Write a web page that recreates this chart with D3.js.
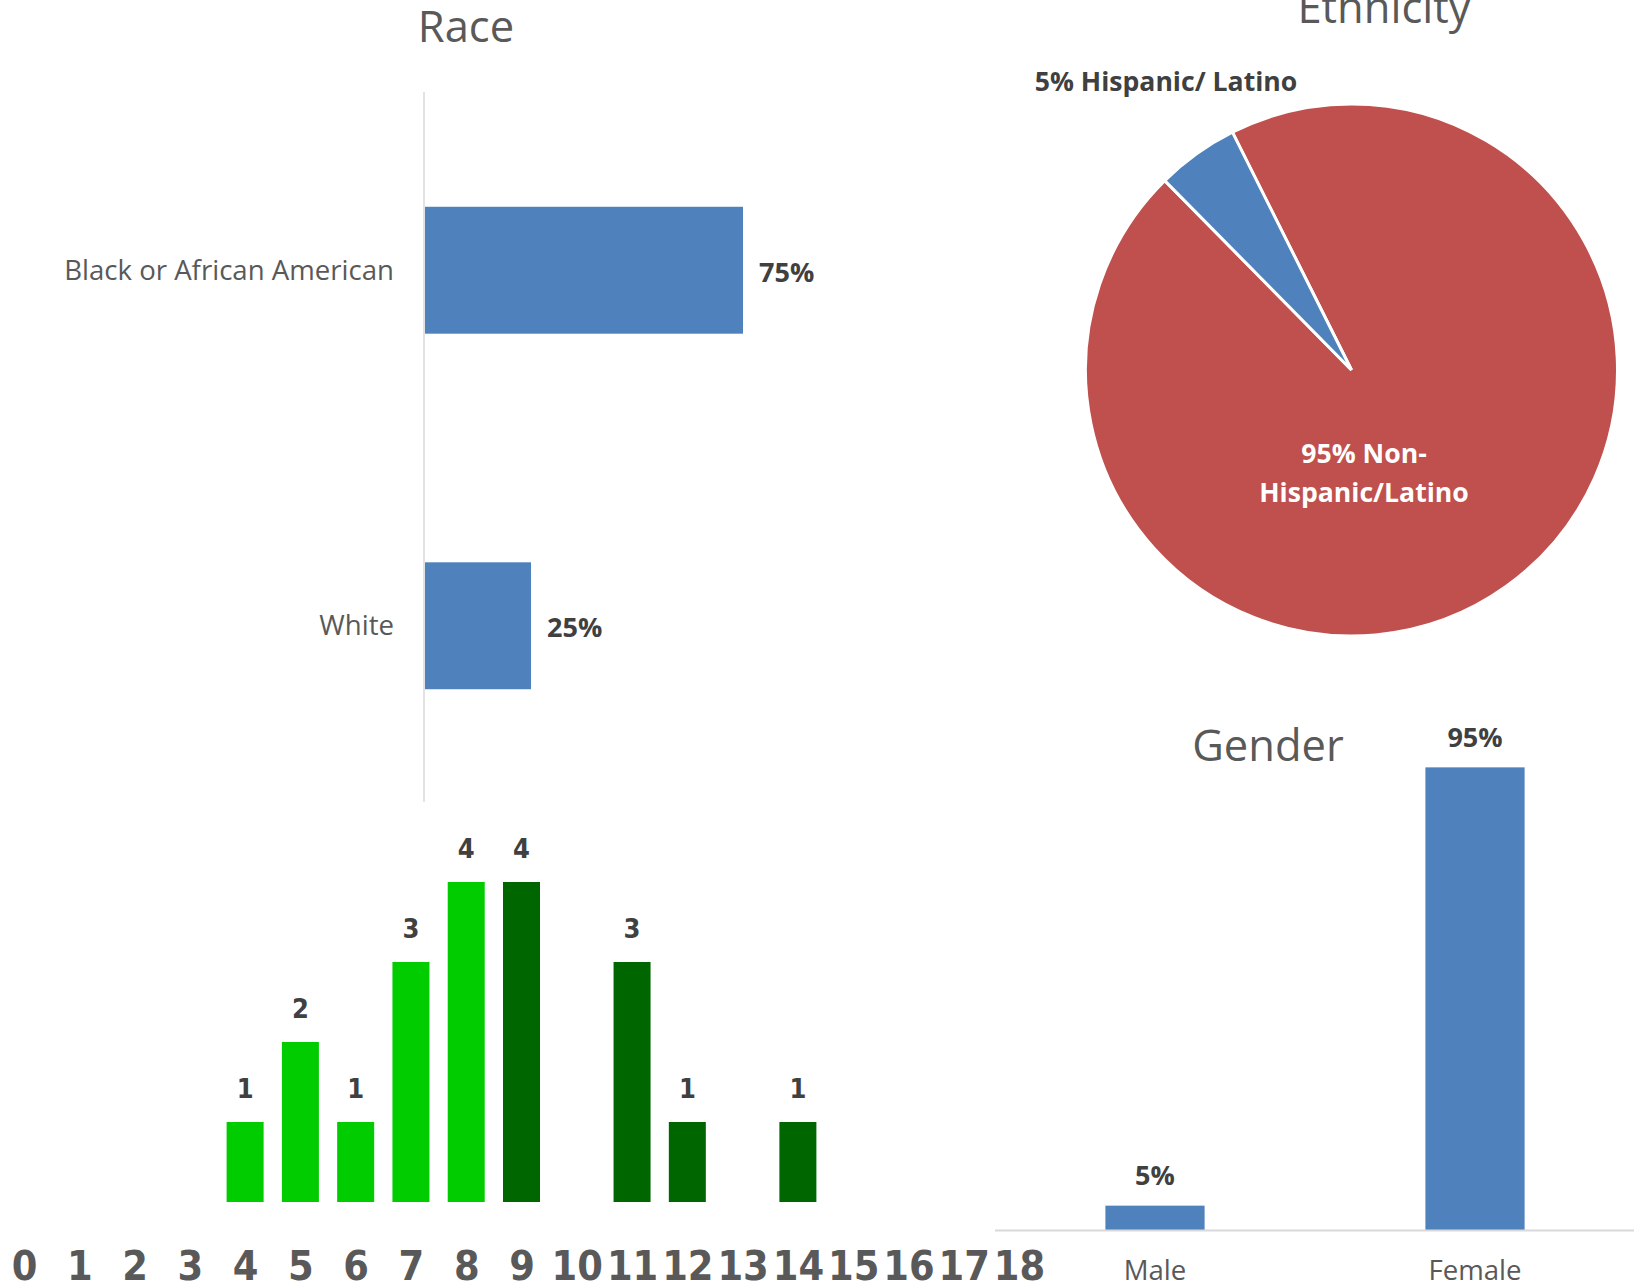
<!DOCTYPE html>
<html><head><meta charset="utf-8">
<script src="https://cdn.jsdelivr.net/npm/d3@7"></script>
<style>
html,body{margin:0;padding:0;background:#fff;}
svg{display:block;}
</style></head>
<body>
<svg id="chart" width="1634" height="1285"></svg>
<script>
// ---- Data ----
const raceCategories = ["Black or African American", "White"];
const raceValues = [0.75, 0.25];

const ethnicityLabels = ["95% Non-Hispanic/Latino", "5% Hispanic/ Latino"];
const ethnicityValues = [95, 5];

const genderCategories = ["Male", "Female"];
const genderValues = [0.05, 0.95];

const histTicks = d3.range(0, 19);
const histLightX = [4, 5, 6, 7, 8];
const histLightCounts = [1, 2, 1, 3, 4];
const histDarkX = [9, 11, 12, 14];
const histDarkCounts = [4, 3, 1, 1];

// ---- Setup ----
const svg = d3.select("#chart");
const greyText = "#595959";
const darkText = "#404040";
const blue = "#4f81bd";
const red = "#c0504d";
const regFont = "'Open Sans', sans-serif";
const titleSize = 43.5, catSize = 27.6, valSize = 27;

// ===== Race (horizontal bar) =====
const race = svg.append("g");
const raceY = d3.scaleBand().domain(raceCategories).range([93, 803]).paddingInner(0.643).paddingOuter(0.32);
const raceX = d3.scaleLinear().domain([0, 1]).range([425, 849]);
race.append("text").attr("x", 466).attr("y", 42).attr("text-anchor", "middle")
  .attr("font-family", regFont).attr("font-size", titleSize).attr("fill", greyText).text("Race");
race.selectAll("rect").data(raceValues).join("rect")
  .attr("x", raceX(0)).attr("y", (d, i) => raceY(raceCategories[i]))
  .attr("width", d => raceX(d) - raceX(0)).attr("height", raceY.bandwidth()).attr("fill", blue);
race.append("line").attr("x1", 424).attr("x2", 424).attr("y1", 92).attr("y2", 802)
  .attr("stroke", "#d9d9d9").attr("stroke-width", 1.5);
race.selectAll("text.cat").data(raceCategories).join("text").attr("class", "cat")
  .attr("x", 394).attr("y", d => raceY(d) + raceY.bandwidth() / 2).attr("dy", "0.35em")
  .attr("text-anchor", "end").attr("font-family", regFont).attr("font-size", catSize).attr("fill", greyText).text(d => d);
race.selectAll("text.val").data(raceValues).join("text").attr("class", "val")
  .attr("x", d => raceX(d) + 16).attr("y", (d, i) => raceY(raceCategories[i]) + raceY.bandwidth() / 2 + 2).attr("dy", "0.35em")
  .attr("font-family", regFont).attr("font-weight", "bold").attr("font-size", valSize).attr("fill", darkText)
  .text(d => Math.round(d * 100) + "%");

// ===== Ethnicity (pie) =====
const cx = 1351.5, cy = 370, R = 266;
const eth = svg.append("g").attr("transform", `translate(${cx},${cy})`);
svg.append("text").attr("x", 1384).attr("y", 23).attr("text-anchor", "middle")
  .attr("font-family", regFont).attr("font-size", titleSize).attr("fill", greyText).text("Ethnicity");
const start = -26.6 * Math.PI / 180;
const pie = d3.pie().sort(null).startAngle(start).endAngle(start + 2 * Math.PI);
const arcs = pie(ethnicityValues);
const arc = d3.arc().innerRadius(0).outerRadius(R);
eth.selectAll("path").data(arcs).join("path").attr("d", arc)
  .attr("fill", (d, i) => i === 0 ? red : blue).attr("stroke", "#fff").attr("stroke-width", 3);
// labels
const lab = svg.append("g").attr("font-family", regFont).attr("font-weight", "bold").attr("font-size", 26.6);
lab.append("text").attr("x", 1364).attr("y", 454).attr("dy", "0.35em").attr("text-anchor", "middle").attr("fill", "#fff").text("95% Non-");
lab.append("text").attr("x", 1364).attr("y", 493).attr("dy", "0.35em").attr("text-anchor", "middle").attr("fill", "#fff").text("Hispanic/Latino");
lab.append("text").attr("x", 1166).attr("y", 82).attr("dy", "0.35em").attr("text-anchor", "middle").attr("fill", darkText).text(ethnicityLabels[1]);

// ===== Gender (vertical bar) =====
const gen = svg.append("g");
const gX = d3.scaleBand().domain(genderCategories).range([995, 1635]).paddingInner(0.69).paddingOuter(0.345);
const gY = d3.scaleLinear().domain([0, 1]).range([1230, 743]);
gen.append("text").attr("x", 1268).attr("y", 761).attr("text-anchor", "middle")
  .attr("font-family", regFont).attr("font-size", titleSize).attr("fill", greyText).text("Gender");
gen.selectAll("rect").data(genderValues).join("rect")
  .attr("x", (d, i) => gX(genderCategories[i])).attr("y", d => gY(d))
  .attr("width", gX.bandwidth()).attr("height", d => gY(0) - gY(d)).attr("fill", blue);
gen.append("line").attr("x1", 995).attr("x2", 1634).attr("y1", 1230.5).attr("y2", 1230.5)
  .attr("stroke", "#d9d9d9").attr("stroke-width", 2);
gen.selectAll("text.val").data(genderValues).join("text").attr("class", "val")
  .attr("x", (d, i) => gX(genderCategories[i]) + gX.bandwidth() / 2).attr("y", d => gY(d) - 30).attr("dy", "0.35em")
  .attr("text-anchor", "middle").attr("font-family", regFont).attr("font-weight", "bold").attr("font-size", valSize).attr("fill", darkText)
  .text(d => Math.round(d * 100) + "%");
gen.selectAll("text.cat").data(genderCategories).join("text").attr("class", "cat")
  .attr("x", d => gX(d) + gX.bandwidth() / 2).attr("y", 1270).attr("dy", "0.35em")
  .attr("text-anchor", "middle").attr("font-family", regFont).attr("font-size", catSize).attr("fill", greyText).text(d => d);

// ===== Histogram =====
const hist = svg.append("g");
const hX = d3.scaleLinear().domain([0, 18]).range([24, 1019]);
const hY = d3.scaleLinear().domain([0, 4]).range([1202, 882]);
const bw = 37;
const lightData = histLightX.map((x, i) => ({x, v: histLightCounts[i], c: "#00cc00"}));
const darkData = histDarkX.map((x, i) => ({x, v: histDarkCounts[i], c: "#006600"}));
const allBars = lightData.concat(darkData);
hist.selectAll("rect").data(allBars).join("rect")
  .attr("x", d => hX(d.x) - bw / 2).attr("y", d => hY(d.v)).attr("width", bw)
  .attr("height", d => hY(0) - hY(d.v)).attr("fill", d => d.c);
hist.selectAll("text.val").data(allBars).join("text").attr("class", "val")
  .attr("x", d => hX(d.x)).attr("y", d => hY(d.v) - 33).attr("dy", "0.35em").attr("text-anchor", "middle")
  .attr("font-family", "'DejaVu Sans Condensed', 'DejaVu Sans', sans-serif").attr("font-weight", "bold")
  .attr("font-size", 27).attr("fill", darkText).text(d => d.v);
const axisG = hist.append("g").attr("transform", "translate(0,1266)")
  .call(d3.axisBottom(hX).tickValues(histTicks).tickFormat(d3.format("d")).tickSize(0).tickPadding(0));
axisG.select(".domain").remove();
axisG.selectAll("text").attr("dy", "0.35em").attr("y", 0)
  .attr("font-family", "'Liberation Sans Narrow', 'DejaVu Sans Condensed', sans-serif")
  .attr("font-weight", "bold").attr("font-size", 41).attr("fill", greyText);
</script>
</body></html>
